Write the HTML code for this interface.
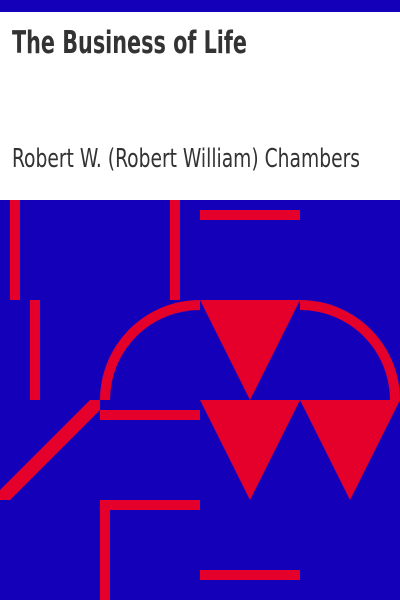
<!DOCTYPE html>
<html><head><meta charset="utf-8"><style>
html,body{margin:0;padding:0;width:400px;height:600px;overflow:hidden;background:#fff}
svg{display:block}
</style></head><body>
<svg width="400" height="600" viewBox="0 0 400 600" xmlns="http://www.w3.org/2000/svg">
<rect x="0" y="0" width="400" height="12" fill="#1400b9"/>
<rect x="0" y="12" width="400" height="188" fill="#ffffff"/>
<text x="12" y="53" font-family="'DejaVu Sans Condensed','DejaVu Sans','Liberation Sans',sans-serif" font-weight="bold" font-size="31" fill="#333" textLength="235" lengthAdjust="spacingAndGlyphs">The Business of Life</text>
<text x="12" y="167" font-family="'DejaVu Sans Condensed','DejaVu Sans','Liberation Sans',sans-serif" font-size="26" fill="#333" textLength="348" lengthAdjust="spacingAndGlyphs">Robert W. (Robert William) Chambers</text>
<g>
<rect x="0" y="200" width="400" height="400" fill="#1400b9"/>
<g fill="#e4002b">
<rect x="10" y="200" width="10" height="100"/>
<rect x="30" y="300" width="10" height="100"/>
<rect x="170" y="200" width="10" height="100"/>
<rect x="200" y="210" width="100" height="10"/>
<path d="M100 400 A100 100 0 0 1 200 300 L200 310 A90 90 0 0 0 110 400 Z"/>
<path d="M300 300 A100 100 0 0 1 400 400 L390 400 A90 90 0 0 0 300 310 Z"/>
<polygon points="200,300 300,300 250,400"/>
<polygon points="200,400 300,400 250,500"/>
<polygon points="300,400 400,400 350,500"/>
<rect x="100" y="410" width="100" height="10"/>
<polygon points="90,400 100,400 100,410 10,500 0,500 0,490"/>
<rect x="100" y="500" width="10" height="100"/>
<rect x="100" y="500" width="100" height="10"/>
<rect x="200" y="570" width="100" height="10"/>
</g>
</g>
</svg>
</body></html>
